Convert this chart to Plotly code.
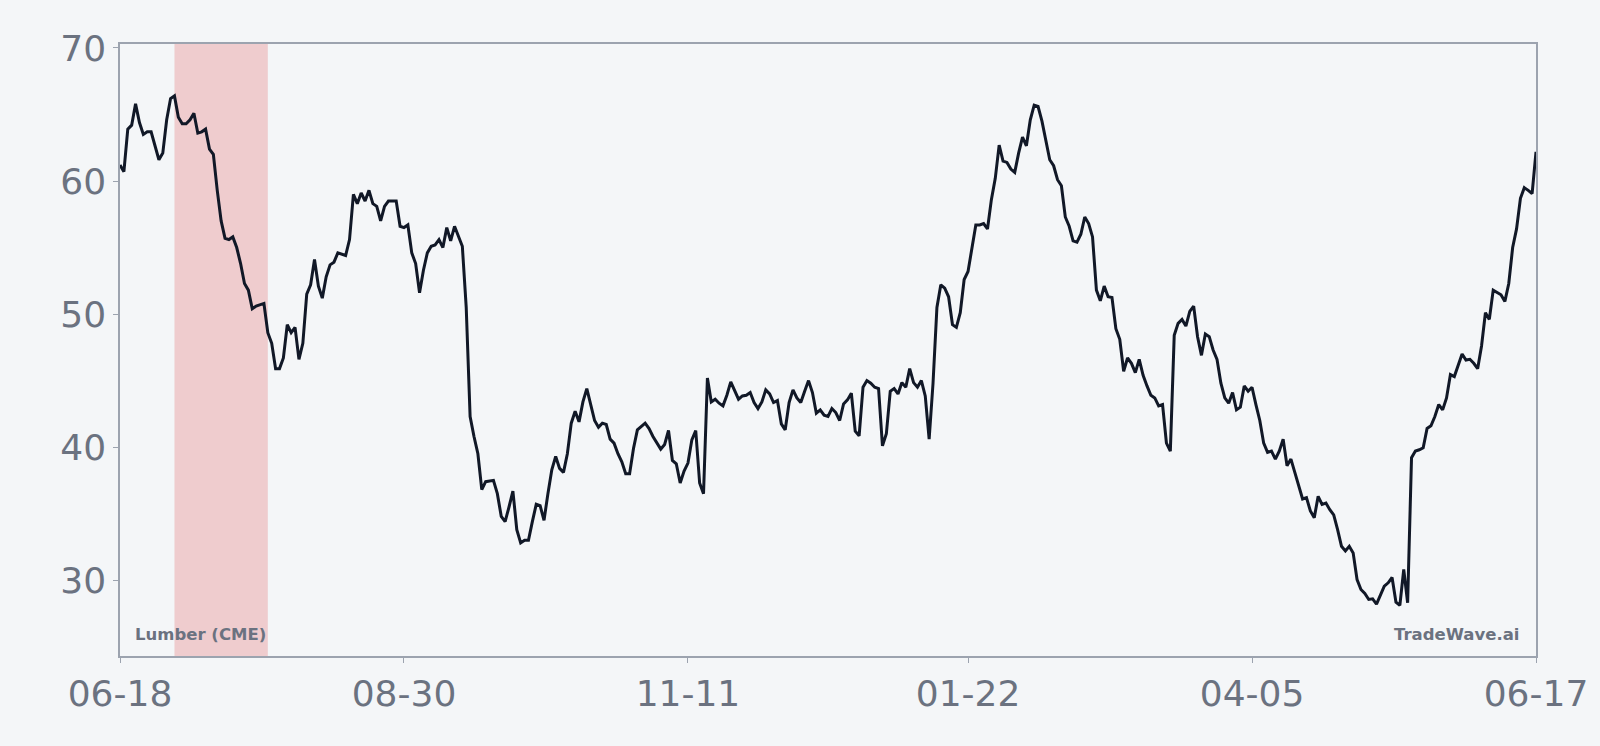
"""
Lumber (CME) one-year daily price line with a highlighted window.
"""

import pandas as pd
import plotly.graph_objects as go

# Daily closes, 2024-06-18 .. 2025-06-17 (None = no reading that day)
start_date = "2024-06-18"
end_date = "2025-06-17"
prices = [
    61.2, 60.7, 63.9, 64.2, 65.8, 64.4, 63.5, 63.7, 63.7, None,
    61.6, 62.1, 64.6, 66.2, 66.4, 64.8, 64.3, 64.3, 64.6, 65.1,
    63.6, 63.7, 63.9, 62.4, 62.0, 59.3, 57.0, 55.7, 55.6, 55.8,
    55.0, 53.8, 52.3, 51.8, 50.4, 50.6, 50.7, 50.8, 48.6, 47.8,
    45.9, 45.9, 46.7, 49.2, 48.6, 49.0, 46.6, 47.8, 51.5, 52.2,
    54.1, 52.1, 51.2, 52.8, 53.7, 53.9, 54.6, 54.5, 54.4, 55.6,
    59.0, 58.3, 59.1, 58.5, 59.3, 58.3, 58.1, 57.0, 58.1, 58.5,
    58.5, 58.5, 56.6, 56.5, 56.7, 54.6, 53.8, 51.6, 53.3, 54.6,
    55.1, 55.2, 55.6, 55.0, 56.5, 55.5, 56.6, 55.9, 55.1, 50.5,
    42.3, 40.8, 39.5, 36.8, 37.4, None, 37.5, 36.5, 34.8, 34.4,
    35.5, 36.7, 33.8, 32.8, 33.0, 33.0, 34.4, 35.7, 35.6, 34.5,
    36.5, 38.3, 39.3, 38.4, 38.1, 39.5, 41.8, 42.7, 41.9, 43.4,
    44.4, 43.3, 42.0, 41.5, 41.8, 41.7, 40.6, 40.3, 39.5, 38.9,
    38.0, 38.0, 39.9, 41.3, None, 41.8, 41.4, 40.8, None, 39.85,
    40.2, 41.25, 39.0, 38.75, 37.3, 38.2, 38.8, 40.55, 41.25, 37.3,
    36.5, 45.2, 43.4, 43.6, 43.3, 43.1, 43.9, 44.9, 44.3, 43.6,
    43.85, 43.9, 44.1, 43.35, 42.9, 43.4, 44.3, 44.0, 43.35, 43.5,
    41.75, 41.3, 43.35, 44.3, 43.7, 43.35, 44.2, 45.0, 44.1, 42.55,
    42.8, 42.4, 42.3, 42.9, 42.6, 42.0, 43.25, 43.55, 44.05, 41.2,
    40.85, 44.5, 45.0, 44.8, 44.5, 44.4, 40.1, 41.0, 44.2, 44.4,
    44.0, 44.85, 44.5, 45.9, 44.85, 44.5, 45.0, 43.85, 40.6, 44.8,
    50.5, 52.2, 51.95, 51.3, 49.2, 49.0, 50.1, 52.6, 53.2, 55.0,
    56.7, 56.7, 56.8, 56.4, 58.6, 60.2, 62.7, 61.5, 61.4, 60.9,
    60.65, 62.1, 63.3, 62.65, 64.6, 65.7, 65.6, 64.5, 63.0, 61.6,
    61.15, 60.1, 59.65, 57.3, 56.6, 55.5, 55.4, 56.0, 57.3, 56.8,
    55.8, 51.8, 51.0, 52.1, 51.3, 51.25, 48.9, 48.1, 45.7, 46.7,
    46.3, 45.6, 46.6, 45.4, 44.6, 43.9, 43.7, 43.1, 43.2, 40.3,
    39.7, 48.4, 49.3, 49.6, 49.1, 50.2, 50.6, 48.3, 46.9, 48.5,
    48.3, 47.3, 46.6, 44.8, 43.7, 43.3, 44.1, 42.8, 43.0, 44.6,
    44.2, 44.5, 43.2, 42.0, 40.3, 39.6, 39.7, 39.1, 39.7, 40.6,
    38.6, 39.1, 38.1, 37.1, 36.1, 36.2, 35.2, 34.7, 36.3, 35.7,
    35.8, 35.3, 34.9, 33.8, 32.55, 32.2, 32.55, 32.05, 30.05, 29.3,
    29.0, 28.55, 28.6, 28.2, 28.85, 29.55, 29.8, 30.2, 28.35, 28.1,
    30.8, 28.3, 39.2, 39.7, 39.8, 39.95, 41.4, 41.6, 42.3, 43.2,
    42.8, 43.7, 45.45, 45.3, None, 47.0, 46.55, 46.6, 46.3, 45.9,
    47.6, 50.1, 49.6, 51.8, 51.6, 51.45, 50.95, 52.3, 55.0, 56.4,
    58.7, 59.5, 59.3, 59.05, 62.2,
]

# Highlighted window
highlight_start = "2024-07-02"
highlight_end = "2024-07-26"

# Axis ticks
x_tick_dates = ["2024-06-18", "2024-08-30", "2024-11-11", "2025-01-22", "2025-04-05", "2025-06-17"]
x_tick_labels = ["06-18", "08-30", "11-11", "01-22", "04-05", "06-17"]
y_ticks = [30, 40, 50, 60, 70]

dates = pd.date_range(start_date, end_date, freq="D")
df = pd.DataFrame({"date": dates, "price": prices})

BG = "#f4f6f8"
AXIS = "#9ca3af"
TEXT = "#6b7280"

fig = go.Figure()

fig.add_trace(go.Scatter(
    x=df["date"],
    y=df["price"],
    mode="lines",
    line=dict(color="#111827", width=3),
    connectgaps=True,
    hoverinfo="skip",
    showlegend=False,
))

# Shaded window behind the line
fig.add_vrect(
    x0=highlight_start, x1=highlight_end,
    fillcolor="rgba(220, 38, 38, 0.2)",
    line_width=0,
    layer="below",
)

# Corner labels
fig.add_annotation(
    text="<b>Lumber (CME)</b>",
    xref="paper", yref="paper",
    x=0.0095, y=0.017, xanchor="left", yanchor="bottom",
    showarrow=False,
    font=dict(family="DejaVu Sans", size=16.5, color=TEXT),
)
fig.add_annotation(
    text="<b>TradeWave.ai</b>",
    xref="paper", yref="paper",
    x=0.9896, y=0.017, xanchor="right", yanchor="bottom",
    showarrow=False,
    font=dict(family="DejaVu Sans", size=16.5, color=TEXT),
)

fig.update_layout(
    width=1600,
    height=746,
    margin=dict(l=120, r=64, t=44, b=90),
    paper_bgcolor=BG,
    plot_bgcolor=BG,
    font=dict(family="DejaVu Sans", size=36, color=TEXT),
    showlegend=False,
)

fig.update_xaxes(
    range=[start_date, end_date],
    tickvals=x_tick_dates,
    ticktext=x_tick_labels,
    showgrid=False,
    zeroline=False,
    showline=True,
    mirror=True,
    linecolor=AXIS,
    linewidth=1.5,
    ticks="outside",
    ticklen=5,
    tickcolor=AXIS,
    tickfont=dict(size=36, color=TEXT),
)
fig.update_yaxes(
    range=[24.3, 70.3],
    tickvals=y_ticks,
    showgrid=False,
    zeroline=False,
    showline=True,
    mirror=True,
    linecolor=AXIS,
    linewidth=1.5,
    ticks="outside",
    ticklen=5,
    tickcolor=AXIS,
    tickfont=dict(size=36, color=TEXT),
)

# drop the default page margin so the figure fills the window edge to edge
page_style = (
    "document.body.style.margin='0';"
    "document.body.style.overflow='hidden';"
    "document.body.style.background='" + BG + "';"
)
fig.write_html(
    "out.html",
    config={"displayModeBar": False},
    post_script=page_style,
)
